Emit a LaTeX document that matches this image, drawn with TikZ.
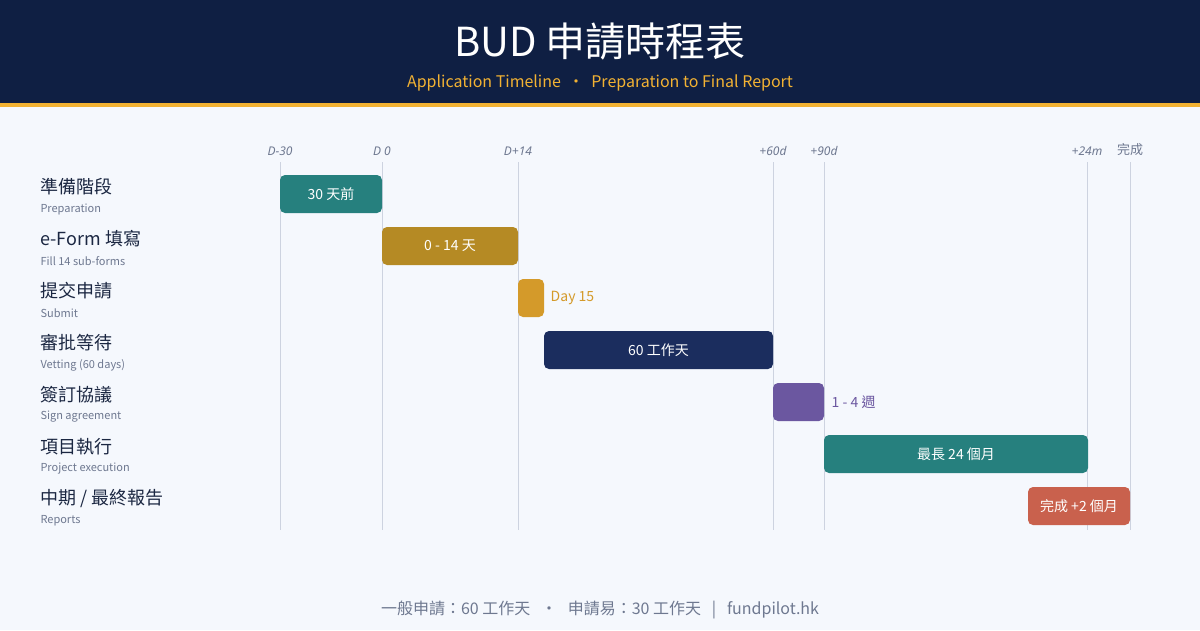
\documentclass[tikz,border=0pt]{standalone}
\usepackage{fontspec}
\usetikzlibrary{positioning}
\setmainfont{Noto Sans CJK TC}
\newfontfamily\latinsans{Noto Sans}
\definecolor{navy}{HTML}{0F1F43}
\definecolor{gold}{HTML}{F2B233}
\definecolor{bg}{HTML}{F5F8FD}
\definecolor{ink}{HTML}{1B2742}
\definecolor{muted}{HTML}{6E7890}
\definecolor{gridc}{HTML}{CDD3E0}
\definecolor{teal}{HTML}{26807E}
\definecolor{ochre}{HTML}{B58A24}
\definecolor{amber}{HTML}{D49A2A}
\definecolor{deepblue}{HTML}{1B2D5E}
\definecolor{violet}{HTML}{6B57A0}
\definecolor{coral}{HTML}{C9614D}
\tikzset{
  bar/.style={rectangle, rounded corners=5pt, minimum height=38pt, inner sep=0pt, text=white, font=\fontsize{14}{16}\selectfont},
  stage/.style={anchor=west, text=ink, font=\fontsize{18}{20}\selectfont},
  substage/.style={anchor=west, text=muted, font=\fontsize{11}{13}\selectfont},
  tick/.style={text=muted, font=\fontsize{12}{14}\selectfont\latinsans\itshape},
  gridline/.style={draw=gridc, line width=0.8pt},
  note/.style={anchor=west, font=\fontsize{14}{16}\selectfont}
}
\begin{document}
\begin{tikzpicture}[x=1pt,y=-1pt]
  \fill[bg] (0,0) rectangle (1200,630);
  \useasboundingbox (0,0) rectangle (1200,630);
  % header
  \fill[navy] (0,0) rectangle (1200,103);
  \fill[gold] (0,103) rectangle (1200,107);
  \node (title) [text=white, font=\fontsize{40}{44}\selectfont] at (600,42) {BUD 申請時程表};
  \node (subtitle) [text=gold, font=\fontsize{16}{18}\selectfont] at (600,83) {Application Timeline \ · \ Preparation to Final Report};
  % grid and ticks
  \foreach \x/\lab in {280/D-30, 382/D 0, 518/D+14, 773/+60d, 824/+90d, 1087/+24m} {
    \draw[gridline] (\x,162) -- (\x,530);
    \node[tick] at (\x,151) {\lab};
  }
  \draw[gridline] (1130,162) -- (1130,530);
  \node (done) [text=muted, font=\fontsize{13}{15}\selectfont] at (1130,150) {完成};
  % stage labels
  \foreach \y/\main/\sub [count=\i] in {194/準備階段/Preparation, 246/e-Form 填寫/Fill 14 sub-forms, 298/提交申請/Submit, 350/審批等待/Vetting (60 days), 402/簽訂協議/Sign agreement, 454/項目執行/Project execution, 506/{中期 / 最終報告}/Reports} {
    \node (stage\i) [stage] at (37,\y-7) {\main};
    \node (sub\i) [substage] at (37,\y+15) {\sub};
  }
  % bars
  \node (prep) [bar, fill=teal, minimum width=102pt] at (331,194) {30 天前};
  \node (eform) [bar, fill=ochre, minimum width=136pt] at (450,246) {0 - 14 天};
  \node (submit) [bar, fill=amber, minimum width=26pt] at (531,298) {};
  \node (vet) [bar, fill=deepblue, minimum width=229pt] at (658.5,350) {60 工作天};
  \node (sign) [bar, fill=violet, minimum width=51pt] at (798.5,402) {};
  \node (exec) [bar, fill=teal, minimum width=264pt] at (956,454) {最長 24 個月};
  \node (report) [bar, fill=coral, minimum width=102pt] at (1079,506) {完成 +2 個月};
  \node (day15) [note, text=amber, right=3pt of submit] {Day 15};
  \node (weeks) [note, text=violet, right=4pt of sign] {1 - 4 週};
  % footer
  \node (footer) [text=muted, font=\fontsize{16}{18}\selectfont] at (600,610) {一般申請：60 工作天 \ \ · \ \ 申請易：30 工作天 \ \ | \ \ fundpilot.hk};
\end{tikzpicture}
\end{document}
